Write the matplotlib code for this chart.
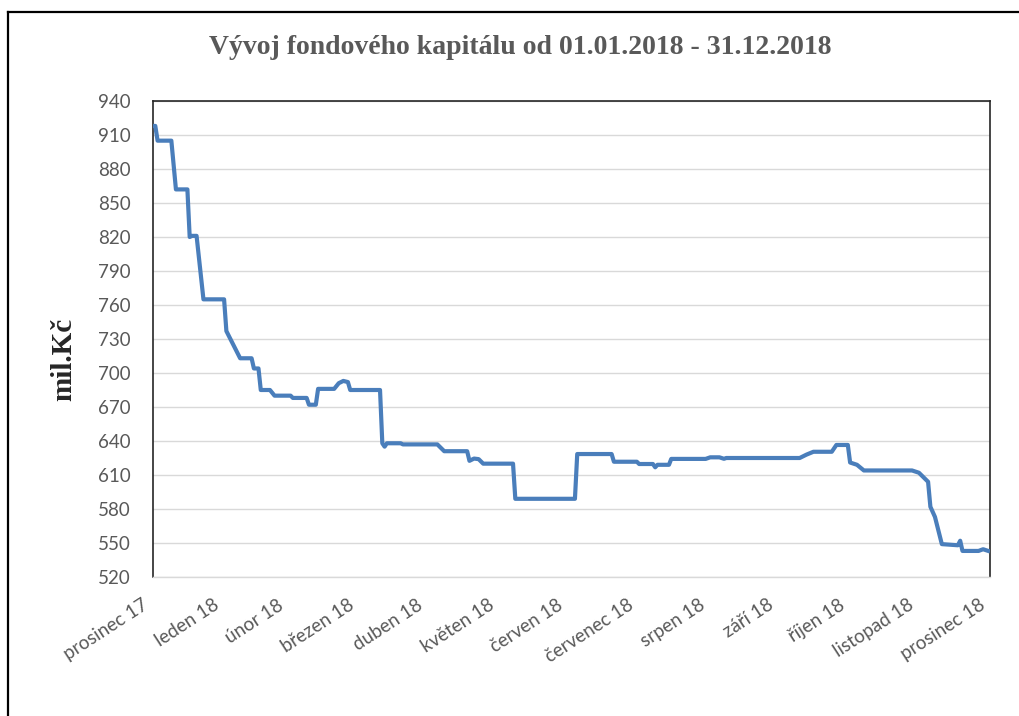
import matplotlib
matplotlib.use("Agg")
import matplotlib.pyplot as plt
from matplotlib.lines import Line2D
from matplotlib.transforms import ScaledTranslation
import pandas as pd

# ---- data (day offset from 2018-01-01, value in mil. Kč) ----
days = [0, 1, 2, 8, 10, 15, 16, 17, 19, 22, 31, 32, 34, 36, 38, 43, 44, 46, 47, 51,
        53, 60, 61, 67, 68, 71, 72, 79, 81, 83, 85, 86, 99, 100, 101, 102, 108, 109, 124, 127,
        137, 138, 140, 142, 144, 157, 158, 184, 185, 200, 201, 211, 212, 218, 219, 220, 225, 226, 241, 243,
        247, 249, 250, 282, 285, 288, 296, 298, 303, 304, 307, 310, 331, 334, 338, 339, 341, 344, 351, 352,
        353, 360, 362, 365]
values = [918, 918, 905, 905, 862, 862, 820, 821, 821, 765, 765, 737, 729, 721, 713, 713, 704, 704, 685, 685,
          680, 680, 678, 678, 672, 672, 686, 686, 691, 693, 692, 685, 685, 638, 635, 638, 638, 637, 637, 631,
          631, 622.5, 624.5, 624, 620, 620, 589, 589, 628.5, 628.5, 621.7, 621.7, 619.7, 619.7, 616.8, 619, 619, 624.2, 624.2, 625.6,
          625.6, 624.3, 625, 625, 628, 630.5, 630.5, 636.5, 636.5, 621, 619, 614, 614, 612, 604, 582, 573, 549, 548, 552,
          543, 543, 544.5, 542.5]

month_labels = ["prosinec 17", "leden 18", "únor 18", "březen 18", "duben 18", "květen 18",
                "červen 18", "červenec 18", "srpen 18", "září 18", "říjen 18", "listopad 18",
                "prosinec 18"]
month_starts = pd.date_range("2018-01-01", "2019-01-01", freq="MS")
tick_pos = [(d - month_starts[0]).days for d in month_starts]

y_ticks = list(range(520, 941, 30))

title = "Vývoj fondového kapitálu od 01.01.2018 - 31.12.2018"
ylabel = "mil.Kč"

# ---- figure ----
fig = plt.figure(figsize=(10.19, 7.16), dpi=100)
ax = fig.add_axes([153/1019, (716-577)/716, (990-153)/1019, (577-101)/716])

ax.plot(days, values, color="#4A7EBB", lw=3.0, solid_joinstyle="round", solid_capstyle="butt", zorder=3)

ax.set_xlim(0, 365)
ax.set_ylim(520, 940)
ax.set_yticks(y_ticks)
ax.set_xticks(tick_pos)
ax.tick_params(axis="y", length=0, pad=16)
ax.tick_params(axis="x", length=0, pad=14)
ax.set_xticklabels(month_labels, rotation=33, ha="right", va="center", rotation_mode="anchor",
                   fontsize=13.5, color="#595959", family="Lato")
offset = ScaledTranslation(-0.07, -0.07, fig.dpi_scale_trans)
for lab in ax.xaxis.get_majorticklabels():
    lab.set_transform(lab.get_transform() + offset)
for lab in ax.get_yticklabels():
    lab.set_fontsize(13.5)
    lab.set_color("#595959")
    lab.set_family("Lato")

ax.grid(axis="y", color="#d9d9d9", lw=1)
ax.set_axisbelow(True)
for s in ["left", "top", "right"]:
    ax.spines[s].set_color("#262626")
    ax.spines[s].set_linewidth(1.2)
ax.spines["bottom"].set_color("#d9d9d9")
ax.spines["bottom"].set_linewidth(1)

fig.text(520/1019, 1 - 47/716, title, ha="center", va="center", fontsize=20,
         fontweight="bold", family="Liberation Serif", color="#595959")
fig.text(64/1019, 1 - 359/716, ylabel, ha="center", va="center", rotation=90, fontsize=21,
         fontweight="bold", family="Liberation Serif", color="#262626")

# outer frame (top and left edges)
fig.add_artist(Line2D([8/1019, 1.0], [1 - 12/716, 1 - 12/716], transform=fig.transFigure,
                      color="black", lw=1.6))
fig.add_artist(Line2D([8/1019, 8/1019], [0, 1 - 12/716], transform=fig.transFigure,
                      color="black", lw=1.6))

fig.savefig("out.png", dpi=100)
